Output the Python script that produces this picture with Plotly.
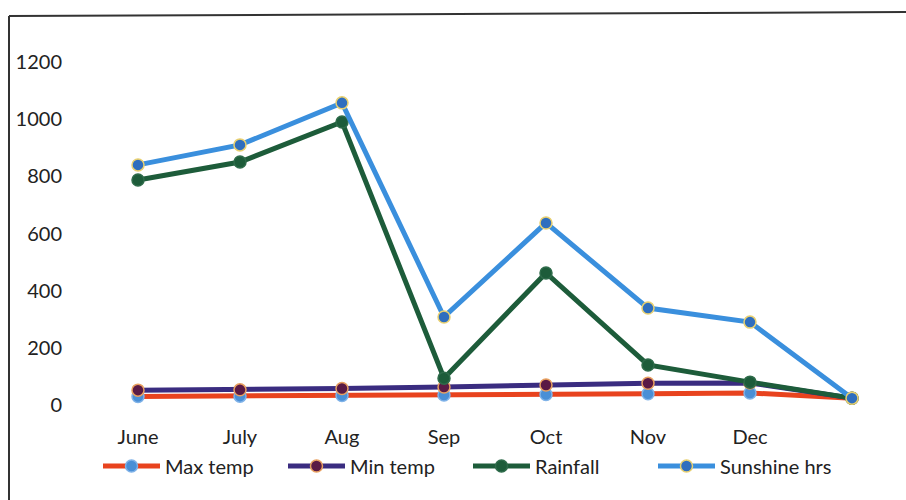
import plotly.graph_objects as go

# Category labels (8th category is unlabeled)
months = ["June", "July", "Aug", "Sep", "Oct", "Nov", "Dec", ""]

# Individual series values (chart is a stacked line chart)
max_temp = [30, 31, 33, 35, 37, 39, 42, 24]
min_temp = [22, 22, 25, 28, 33, 37, 35, 0]
rainfall = [735, 797, 932, 31, 392, 64, 3, 0]
sunshine = [53, 60, 67, 214, 175, 199, 210, 0]

yticks = [0, 200, 400, 600, 800, 1000, 1200]

FONT = "Lato"
FS = 20

series = [
    ("Max temp", max_temp, "#E8431E", "#4A8FD6", "#7FB2E8"),
    ("Min temp", min_temp, "#3A2C80", "#5A1A45", "#E8A060"),
    ("Rainfall", rainfall, "#1D5C3A", "#1D5C3A", "#2E6B4A"),
    ("Sunshine hrs", sunshine, "#3A8FDD", "#2F6EBE", "#E8D070"),
]

fig = go.Figure()
xs = list(range(len(months)))
for name, vals, lc, mc, mlc in series:
    fig.add_trace(go.Scatter(
        x=xs, y=vals, name=name, mode="lines+markers",
        stackgroup="one", fill="none",
        line=dict(color=lc, width=5),
        marker=dict(size=12, color=mc, line=dict(color=mlc, width=1.5)),
    ))

L, T, W, H = 87, 62, 816, 343

def px_x(p):
    return (p - L) / W

def px_y(p):
    return (T + H - p) / H

fig.update_layout(
    width=906, height=500,
    margin=dict(l=L, r=906 - L - W, t=T, b=500 - T - H),
    paper_bgcolor="white", plot_bgcolor="white",
    font=dict(family=FONT, size=FS, color="#222"),
    showlegend=True,
    legend=dict(orientation="h", x=px_x(98), y=px_y(466),
                xanchor="left", yanchor="middle",
                font=dict(family=FONT, size=FS, color="#222"),
                itemwidth=57, entrywidth=113, entrywidthmode="pixels",
                traceorder="normal"),
    xaxis=dict(range=[-0.5, len(months) - 0.5], tickmode="array",
               tickvals=xs, ticktext=months, showgrid=False, zeroline=False,
               showline=False, ticks="", ticklabelstandoff=18,
               tickfont=dict(family=FONT, size=FS, color="#222")),
    yaxis=dict(range=[0, 1200], tickmode="array", tickvals=yticks,
               showgrid=False, zeroline=False, showline=False, ticks="",
               ticklabelstandoff=24,
               tickfont=dict(family=FONT, size=FS, color="#222")),
    shapes=[
        dict(type="line", xref="paper", yref="paper",
             x0=px_x(9), y0=px_y(16), x1=px_x(9), y1=px_y(502),
             line=dict(color="#333", width=2)),
        dict(type="line", xref="paper", yref="paper",
             x0=px_x(9), y0=px_y(16), x1=px_x(906), y1=px_y(12),
             line=dict(color="#333", width=2)),
    ],
)

fig.write_html("out.html")
